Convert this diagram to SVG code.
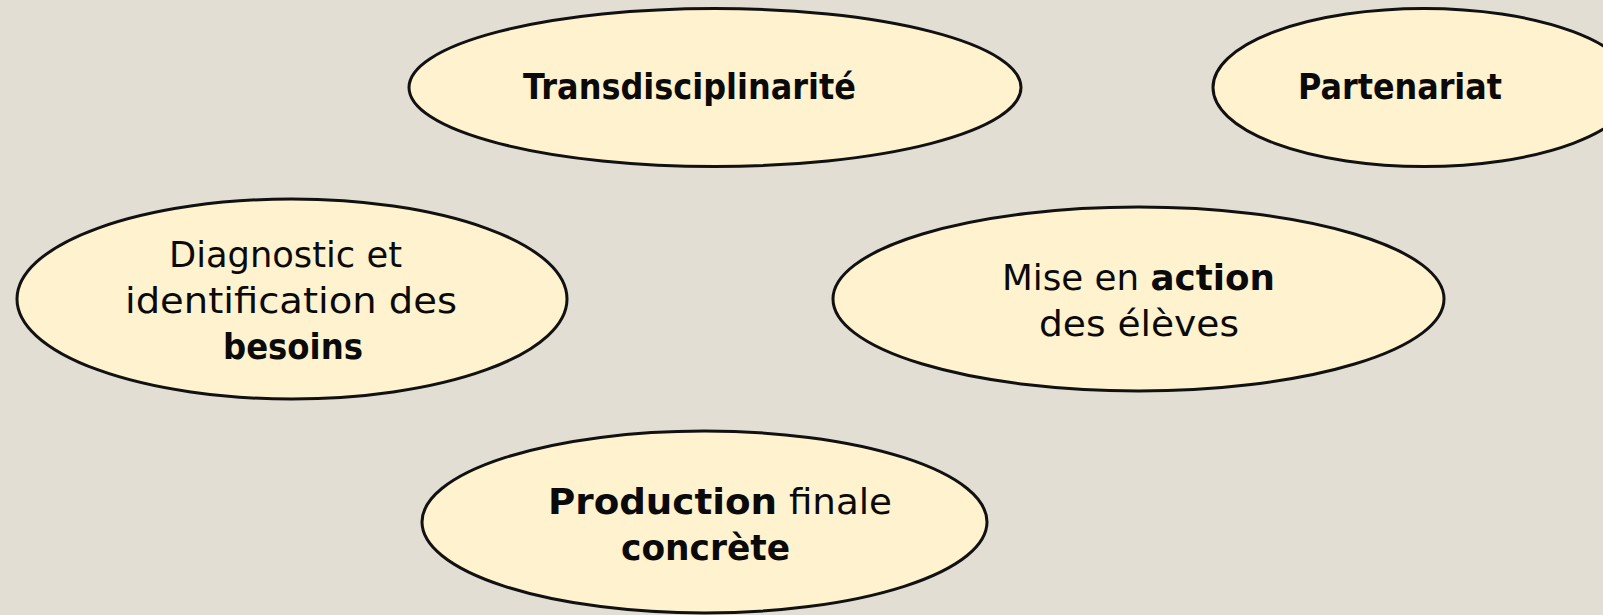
<svg xmlns="http://www.w3.org/2000/svg" width="1603" height="615" viewBox="0 0 1603 615">
<style>
.bg{fill:#E2DED4}
.node{fill:#FFF2CF;stroke:#111;stroke-width:3}
.t{font-family:"DejaVu Sans","Liberation Sans",sans-serif;font-size:35px;fill:#0a0a0a}
.b{font-weight:bold}
</style>
<rect class="bg" x="0" y="0" width="1603" height="615"/>
<g id="connectors"></g>
<g id="n-transdisciplinarite">
<ellipse class="node" cx="715" cy="87.5" rx="306" ry="79"/>
<text class="t b" x="523" y="99" textLength="333" lengthAdjust="spacingAndGlyphs">Transdisciplinarité</text>
</g>
<g id="n-partenariat">
<ellipse class="node" cx="1424" cy="87.5" rx="211" ry="79"/>
<text class="t b" x="1298" y="99" textLength="204" lengthAdjust="spacingAndGlyphs">Partenariat</text>
</g>
<g id="n-diagnostic">
<ellipse class="node" cx="292" cy="299" rx="275" ry="100"/>
<text class="t" x="169" y="267" textLength="233" lengthAdjust="spacingAndGlyphs">Diagnostic et</text>
<text class="t" x="125" y="313" textLength="332" lengthAdjust="spacingAndGlyphs">identification des</text>
<text class="t b" x="223" y="359" textLength="140" lengthAdjust="spacingAndGlyphs">besoins</text>
</g>
<g id="n-action">
<ellipse class="node" cx="1138.5" cy="299" rx="305.5" ry="92"/>
<text class="t" x="1002" y="290" textLength="273" lengthAdjust="spacingAndGlyphs">Mise en <tspan class="b">action</tspan></text>
<text class="t" x="1039" y="336" textLength="200" lengthAdjust="spacingAndGlyphs">des élèves</text>
</g>
<g id="n-production">
<ellipse class="node" cx="704.5" cy="522" rx="282.5" ry="91"/>
<text class="t" x="548" y="514" textLength="344" lengthAdjust="spacingAndGlyphs"><tspan class="b">Production</tspan> finale</text>
<text class="t b" x="621" y="560" textLength="169" lengthAdjust="spacingAndGlyphs">concrète</text>
</g>
</svg>
